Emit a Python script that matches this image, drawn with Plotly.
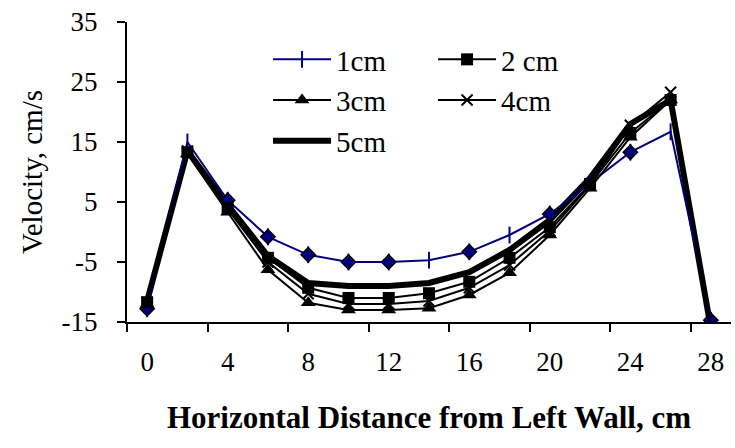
import plotly.graph_objects as go

# ---- data ----
distance_cm = [0, 2, 4, 6, 8, 10, 12, 14, 16, 18, 20, 22, 24, 26, 28]
v_1cm = [-12.8, 15.0, 5.3, -0.8, -3.8, -5.0, -5.0, -4.7, -3.3, -0.5, 3.0, 8.2, 13.3, 16.7, -14.7]
v_2cm = [-11.7, 13.3, 4.0, -4.3, -9.3, -11.0, -11.0, -10.2, -8.3, -4.3, 0.8, 8.0, 16.5, 22.0, -16.0]
v_3cm = [-12.0, 13.0, 3.3, -6.3, -11.8, -13.0, -13.0, -12.7, -10.5, -6.8, -0.5, 7.3, 15.8, 22.0, -16.0]
v_4cm = [-11.8, 13.5, 3.8, -5.0, -10.3, -12.0, -12.0, -11.5, -9.3, -5.5, 0.2, 7.8, 17.8, 23.3, -16.0]
v_5cm = [-11.5, 13.5, 4.5, -4.0, -8.5, -9.0, -9.0, -8.5, -6.7, -3.0, 2.0, 9.0, 18.0, 22.0, -16.0]
# points of the 1cm series drawn with a diamond marker
diamond_idx = [0, 2, 3, 4, 5, 6, 8, 10, 12, 14]

x_tick_vals = [0, 4, 8, 12, 16, 20, 24, 28]
x_tick_text = ["0", "4", "8", "12", "16", "20", "24", "28"]
y_tick_vals = [-15, -5, 5, 15, 25, 35]
y_tick_text = ["-15", "-5", "5", "15", "25", "35"]

FONT = "Liberation Serif"
NAVY = "#000080"

fig = go.Figure()

fig.add_trace(go.Scatter(
    x=distance_cm, y=v_5cm, name="5cm", mode="lines",
    line=dict(color="black", width=6), legend="legend", legendrank=3,
))
fig.add_trace(go.Scatter(
    x=distance_cm, y=v_1cm, name="1cm", mode="lines+markers",
    line=dict(color=NAVY, width=2),
    marker=dict(symbol="line-ns", size=12, line=dict(color=NAVY, width=2)),
    legend="legend", legendrank=1,
))
fig.add_trace(go.Scatter(
    x=[distance_cm[i] for i in diamond_idx], y=[v_1cm[i] for i in diamond_idx],
    mode="markers", showlegend=False, hoverinfo="skip",
    marker=dict(symbol="diamond", size=11, color=NAVY, line=dict(color="black", width=1.5)),
))
fig.add_trace(go.Scatter(
    x=distance_cm, y=v_4cm, name="4cm", mode="lines+markers",
    line=dict(color="black", width=2),
    marker=dict(symbol="x-thin", size=11, line=dict(color="black", width=2)),
    legend="legend2", legendrank=2,
))
fig.add_trace(go.Scatter(
    x=distance_cm, y=v_3cm, name="3cm", mode="lines+markers",
    line=dict(color="black", width=2),
    marker=dict(symbol="triangle-up", size=13, color="black"),
    legend="legend", legendrank=2,
))
fig.add_trace(go.Scatter(
    x=distance_cm, y=v_2cm, name="2 cm", mode="lines+markers",
    line=dict(color="black", width=2),
    marker=dict(symbol="square", size=12, color="black"),
    legend="legend2", legendrank=1,
))

legend_common = dict(
    font=dict(family=FONT, size=29, color="black"),
    bgcolor="rgba(0,0,0,0)", itemwidth=58,
    xanchor="left", yanchor="top",
    traceorder="normal", itemclick=False,
)

fig.update_layout(
    width=735, height=448,
    margin=dict(l=127, r=4, t=22, b=126, autoexpand=False),
    paper_bgcolor="white", plot_bgcolor="white",
    font=dict(family=FONT, size=27, color="black"),
    showlegend=True,
    legend=dict(x=0.2335, y=0.96, **legend_common),
    legend2=dict(x=0.5067, y=0.96, **legend_common),
    xaxis=dict(
        range=[-1, 29], showgrid=False, zeroline=False,
        showline=True, linecolor="black", linewidth=2,
        tickmode="array", tickvals=x_tick_vals, ticktext=x_tick_text,
        ticks="", ticklabelstandoff=15,
        tickfont=dict(family=FONT, size=27, color="black"),
        minor=dict(tick0=-1, dtick=4, ticks="outside", ticklen=8,
                   tickwidth=2, tickcolor="black", showgrid=False),
        title=dict(text="<b>Horizontal Distance from Left Wall, cm</b>",
                   font=dict(family=FONT, size=31, color="black"), standoff=30),
    ),
    yaxis=dict(
        range=[-15, 35], showgrid=False, zeroline=False,
        showline=True, linecolor="black", linewidth=2,
        tickmode="array", tickvals=y_tick_vals, ticktext=y_tick_text,
        ticks="outside", ticklen=8, tickwidth=2, tickcolor="black",
        ticklabelstandoff=14,
        tickfont=dict(family=FONT, size=27, color="black"),
        title=dict(text="Velocity, cm/s",
                   font=dict(family=FONT, size=29, color="black"), standoff=10),
    ),
)

fig.write_html("out.html")
